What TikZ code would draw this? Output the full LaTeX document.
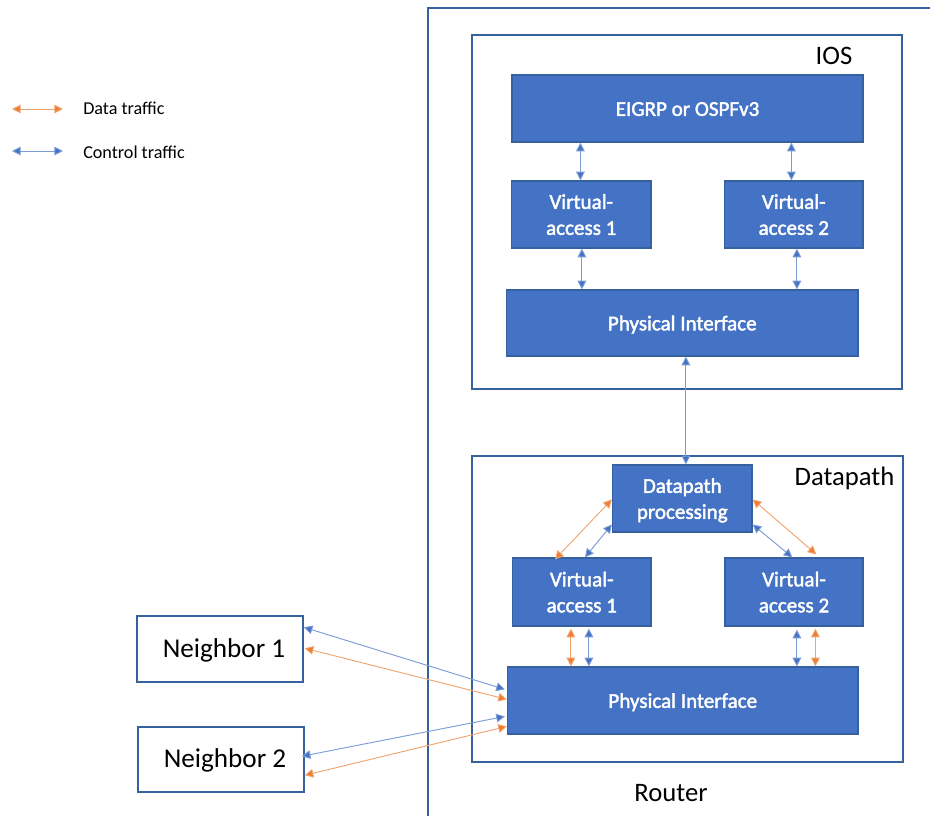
\documentclass[tikz,border=0pt]{standalone}
\usepackage{fontspec}
\setmainfont{Carlito}
\newfontfamily\semib[FakeBold=2]{Carlito}
\usetikzlibrary{arrows.meta,calc}
\definecolor{blu}{HTML}{4472C4}
\definecolor{bord}{HTML}{37609F}
\definecolor{ora}{HTML}{ED7D31}
\tikzset{
  x=0.75pt,y=-0.75pt,
  solid box/.style={draw=bord,line width=0.9pt,fill=blu,text=white,align=center,inner sep=0pt,font=\fontsize{15.8}{19.5}\selectfont\semib},
  frame/.style={draw=bord,line width=1.1pt,inner sep=0pt},
  lab/.style={inner sep=0pt,font=\fontsize{20}{24}\selectfont,text=black},
  leg/.style={inner sep=0pt,anchor=west,font=\fontsize{13.6}{16}\selectfont,text=black},
  ctl/.style={draw=blu!70,line width=0.7pt,{Triangle[length=6.5pt,width=6.5pt,fill=blu]}-{Triangle[length=6.5pt,width=6.5pt,fill=blu]}},
  dat/.style={draw=ora!70,line width=0.7pt,{Triangle[length=6.5pt,width=6.5pt,fill=ora]}-{Triangle[length=6.5pt,width=6.5pt,fill=ora]}},
}
\newcommand{\pbox}[7]{% style,name,x1,y1,x2,y2,text
  \node[#1,minimum width=(#5-#3)*0.75pt,minimum height=(#6-#4)*0.75pt] (#2) at ({(#3+#5)/2},{(#4+#6)/2}) {#7};}
\newcommand{\lift}[1]{\raisebox{-1.6pt}[\height][\depth]{\begin{tabular}{@{}c@{}}#1\end{tabular}}}
\newcommand{\nlab}[1]{\raisebox{-0.7pt}[\height][\depth]{\hspace{6pt}\fontsize{20.4}{24}\selectfont #1}}
\begin{document}
\begin{tikzpicture}
\useasboundingbox (0,0) rectangle (930,816);
% router frame
\coordinate (rtop) at (930,8);
\coordinate (rcorner) at (428,8);
\coordinate (rbot) at (428,816);
\draw[bord,line width=1.1pt] (rtop) -- (rcorner) -- (rbot);
\pbox{frame}{ios}{472}{35}{902}{389}{}
\pbox{frame}{dp}{472}{456}{903}{762}{}
\pbox{solid box}{eigrp}{512}{75}{863}{142}{\lift{EIGRP or OSPFv3}}
\pbox{solid box}{iva}{511.5}{181}{651}{248}{\lift{Virtual-\\access 1}}
\pbox{solid box}{ivb}{724.5}{181}{863}{248}{\lift{Virtual-\\access 2}}
\pbox{solid box}{ipi}{506.5}{290}{858}{356}{\lift{Physical Interface}}
\pbox{solid box}{proc}{612.5}{465}{752}{532}{\lift{Datapath\\processing}}
\pbox{solid box}{dva}{512.5}{558}{651}{626}{\lift{Virtual-\\access 1}}
\pbox{solid box}{dvb}{725}{558}{863}{626}{\lift{Virtual-\\access 2}}
\pbox{solid box}{dpi}{507.5}{667}{858}{734}{\lift{Physical Interface}}
\pbox{frame}{na}{137}{616}{303}{682}{\nlab{Neighbor 1}}
\pbox{frame}{nb}{138}{727}{304}{792}{\nlab{Neighbor 2}}
\node[lab] (tios) at (834,56) {IOS};
\node[lab] (tdp) at (844.5,478) {Datapath};
\node[lab] (trt) at (671,793) {Router};
% legend
\coordinate (la) at (12,109); \coordinate (lb) at (63,109);
\coordinate (lc) at (12,151); \coordinate (ld) at (63,151);
\draw[dat] (la) -- (lb);
\draw[ctl] (lc) -- (ld);
\node[leg] (tla) at (83,108) {Data traffic};
\node[leg] (tlb) at (83,152) {Control traffic};
% IOS
\draw[ctl] (eigrp.south west) ++(69,0) coordinate (e1) (e1) -- (e1 |- iva.north);
\draw[ctl] (eigrp.south west) ++(280,0) coordinate (e2) (e2) -- (e2 |- ivb.north);
\draw[ctl] (iva.south west) ++(71,0) coordinate (i1) (i1) -- (i1 |- ipi.north);
\draw[ctl] (ivb.south west) ++(73,0) coordinate (i2) (i2) -- (i2 |- ipi.north);
\draw[ctl] (ipi.south west) ++(180,0) coordinate (i3) (i3) -- (i3 |- proc.north);
% Datapath
\draw[dat] ($(proc.north west)+(0,35)$) -- ($(dva.north west)+(43,2)$);
\draw[ctl] ($(proc.north west)+(0,60)$) -- ($(dva.north west)+(73,0)$);
\draw[dat] ($(proc.north east)+(0,35)$) -- ($(dvb.north west)+(92,-3)$);
\draw[ctl] ($(proc.north east)+(0,60)$) -- ($(dvb.north west)+(68,0)$);
\draw[dat] ($(dva.south west)+(59,2)$) coordinate (d1) -- (d1 |- dpi.north);
\draw[ctl] ($(dva.south west)+(77,2)$) coordinate (d2) -- (d2 |- dpi.north);
\draw[ctl] ($(dvb.south west)+(72.5,3)$) coordinate (d3) -- (d3 |- dpi.north);
\draw[dat] ($(dvb.south west)+(91,2)$) coordinate (d4) -- (d4 |- dpi.north);
% Neighbors
\draw[ctl] ($(na.north east)+(0,12)$) -- ($(dpi.north west)+(-2,23)$);
\draw[dat] ($(na.north east)+(1,33)$) -- ($(dpi.north west)+(0,33)$);
\draw[ctl] ($(nb.north east)+(-3,30)$) -- ($(dpi.north west)+(-2,50)$);
\draw[dat] ($(nb.north east)+(0,49)$) -- ($(dpi.north west)+(0,60)$);
\end{tikzpicture}
\end{document}
